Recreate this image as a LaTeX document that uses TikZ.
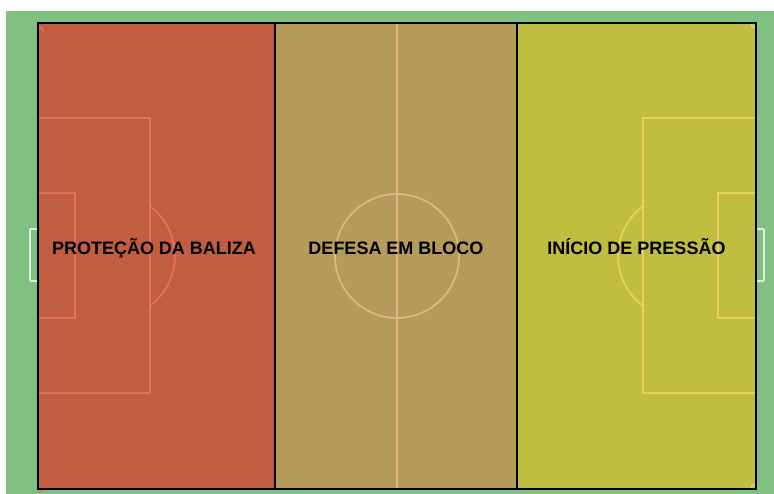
\documentclass[tikz,border=0pt]{standalone}
\usepackage{fontspec}
\setmainfont{Liberation Sans}
\usetikzlibrary{positioning}
\definecolor{relva}{HTML}{80C080}
\definecolor{zonaA}{HTML}{C15E3F}
\definecolor{zonaB}{HTML}{B59B5A}
\definecolor{zonaC}{HTML}{C0BE40}
\definecolor{linhaA}{HTML}{EA6E62}
\definecolor{linhaB}{HTML}{E6B48C}
\definecolor{linhaC}{HTML}{E8D062}

\begin{document}
\begin{tikzpicture}[x=1pt,y=-1pt,
    zona/.style={draw=black,line width=1.4pt},
    linha/.style={line width=1.7pt},
    baliza/.style={draw=white,draw opacity=0.75,line width=1.8pt,rounded corners=1pt},
    rotulo/.style={font=\bfseries\fontsize{18}{18}\selectfont,anchor=base,inner sep=0pt}]
    \useasboundingbox (0,0) rectangle (774,494);
    \fill[relva] (6,11) rectangle (774,494);
    \draw[baliza] (38,229) -- (30,229) -- (30,281) -- (38,281);
    \draw[baliza] (756,229) -- (764,229) -- (764,281) -- (756,281);
    \filldraw[zona,fill=zonaA] (38,23) rectangle (275,489);
    \filldraw[zona,fill=zonaB] (275,23) rectangle (517,489);
    \filldraw[zona,fill=zonaC] (517,23) rectangle (756,489);
    \draw[linha,linhaA] (39,118) -- (150,118) -- (150,393) -- (39,393);
    \draw[linha,linhaA] (39,193) -- (75,193) -- (75,318) -- (39,318);
    \draw[linha,linhaA] (150,206.3) arc[start angle=-53.3,end angle=53.3,radius=62];
    \draw[linha,linhaA] (39,27) arc[start angle=-90,end angle=0,radius=4];
    \draw[linha,linhaA] (43,488) arc[start angle=0,end angle=90,radius=4];
    \draw[linha,linhaB] (397,24) -- (397,488);
    \draw[linha,linhaB] (397,256) circle[radius=62];
    \draw[linha,linhaC] (755,118) -- (643,118) -- (643,393) -- (755,393);
    \draw[linha,linhaC] (755,193) -- (718,193) -- (718,318) -- (755,318);
    \draw[linha,linhaC] (643,206.3) arc[start angle=233.3,end angle=126.7,radius=62];
    \draw[linha,linhaC] (751,24) arc[start angle=180,end angle=90,radius=4];
    \draw[linha,linhaC] (755,484) arc[start angle=-90,end angle=-180,radius=4];
    \draw[zona] (38,23) rectangle (756,489);
    \node[rotulo] (protecao) at (154,255) {PROTEÇÃO DA BALIZA};
    \node[rotulo] (defesa) at (396,255) {DEFESA EM BLOCO};
    \node[rotulo] (pressao) at (636.5,255) {INÍCIO DE PRESSÃO};
\end{tikzpicture}
\end{document}
